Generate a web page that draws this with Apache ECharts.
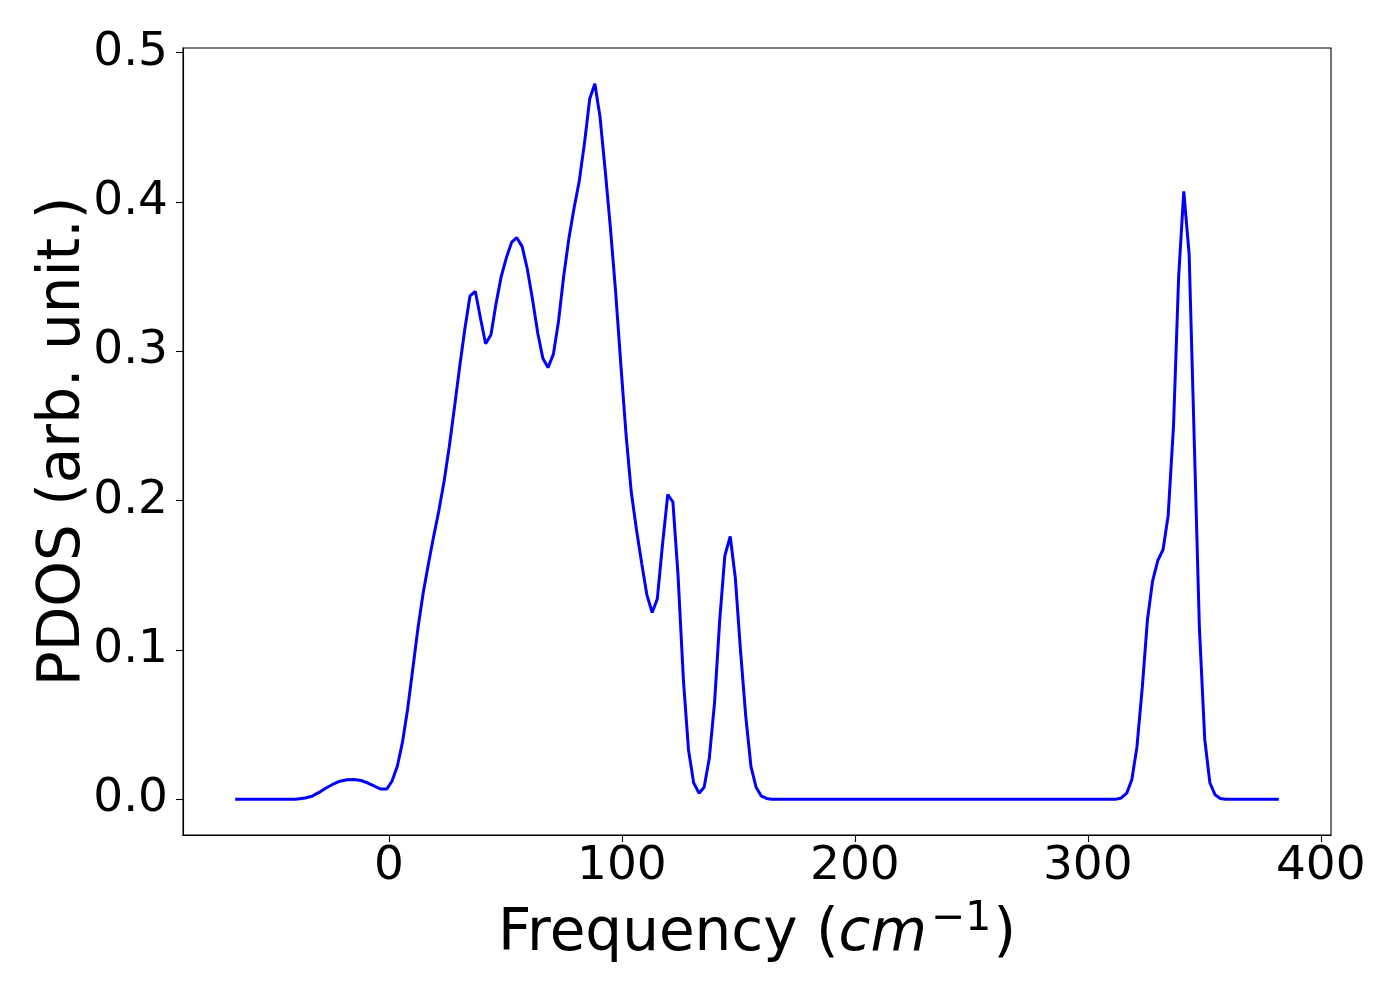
<!DOCTYPE html>
<html>
<head>
<meta charset="utf-8">
<script src="https://cdn.jsdelivr.net/npm/echarts@6/dist/echarts.min.js"></script>
<style>html,body{margin:0;padding:0;background:#fff}#c{width:1400px;height:1000px}</style>
</head>
<body>
<div id="c"></div>
<script>
const freq = [-66, -40, -36, -33, -30, -27, -24, -21, -18, -15, -12, -9, -6, -3.5, -0.9,
  1.3, 3.6, 5.8, 8.0, 10.3, 12.5, 14.7, 17.0, 19.2, 21.4, 23.7, 25.9, 28.1, 30.4, 32.6, 34.8,
  37.1, 39.3, 41.5, 43.8, 46.0, 48.2, 50.5, 52.7, 54.9, 57.2, 59.4, 61.6, 63.9, 66.1, 68.3,
  70.6, 72.8, 75.0, 77.3, 79.5, 81.7, 84.0, 86.2, 88.4, 90.6, 92.9, 95.1, 97.3, 99.6, 101.8,
  104.0, 106.3, 108.5, 110.7, 113.0, 115.2, 117.4, 119.7, 121.9, 124.1, 126.4, 128.6, 130.8,
  133.1, 135.3, 137.5, 139.8, 142.0, 144.2, 146.5, 148.7, 150.9, 153.2, 155.4, 157.6, 159.9,
  162.1, 164.3, 312.2, 314.4, 316.7, 318.9, 321.1, 323.4, 325.6, 327.8, 330.1, 332.3, 334.5,
  336.8, 339.0, 341.2, 343.5, 345.7, 347.9, 350.2, 352.4, 354.6, 356.9, 359.1, 382];
const pdos = [0, 0, 0.0008, 0.002, 0.0045, 0.0075, 0.010, 0.012, 0.013, 0.0132, 0.0125, 0.0108, 0.0085, 0.0068, 0.0068,
  0.012, 0.022, 0.038, 0.060, 0.088, 0.115, 0.138, 0.158, 0.176, 0.193, 0.213, 0.236, 0.262, 0.290, 0.315, 0.337,
  0.340, 0.322, 0.305, 0.311, 0.332, 0.350, 0.363, 0.373, 0.376, 0.370, 0.355, 0.335, 0.312, 0.295, 0.289,
  0.298, 0.320, 0.350, 0.376, 0.396, 0.414, 0.440, 0.469, 0.479, 0.457, 0.420, 0.382, 0.340, 0.290, 0.244,
  0.206, 0.180, 0.158, 0.137, 0.125, 0.134, 0.170, 0.204, 0.199, 0.150, 0.080, 0.033, 0.011,
  0.004, 0.008, 0.027, 0.065, 0.120, 0.163, 0.176, 0.148, 0.100, 0.055, 0.022, 0.008, 0.002,
  0.0005, 0, 0, 0.0008, 0.004, 0.013, 0.035, 0.075, 0.120, 0.146, 0.160, 0.167, 0.190,
  0.250, 0.350, 0.407, 0.365, 0.240, 0.115, 0.040, 0.011, 0.003, 0.0005, 0, 0];
const xTicks = [0, 100, 200, 300, 400];
const yTicks = [0, 0.1, 0.2, 0.3, 0.4, 0.5];

const font = 'DejaVu Sans';
const chart = echarts.init(document.getElementById('c'), null, {renderer: 'canvas'});
chart.setOption({
  animation: false,
  backgroundColor: '#fff',
  grid: {left: 183, right: 69, top: 48, bottom: 165, show: true, borderColor: '#000', borderWidth: 1.1, backgroundColor: 'transparent'},
  xAxis: {
    type: 'value', min: -88.4, max: 404.4,
    splitLine: {show: false},
    axisLine: {show: true, onZero: false, lineStyle: {color: '#000', width: 1.1}},
    axisTick: {show: true, length: 7, lineStyle: {color: '#000', width: 1.1}, customValues: xTicks},
    axisLabel: {color: '#000', fontFamily: font, fontSize: 47, margin: 8, customValues: xTicks},
    name: '{n|Frequency (}{i|cm}{s|−1}{n|)}',
    nameLocation: 'middle', nameGap: 64, nameMoveOverlap: false,
    nameTextStyle: {
      fontFamily: font, fontSize: 58, color: '#000',
      rich: {
        n: {fontFamily: font, fontSize: 58, lineHeight: 72, color: '#000'},
        i: {fontFamily: font, fontSize: 58, lineHeight: 72, fontStyle: 'italic', color: '#000'},
        s: {fontFamily: font, fontSize: 41, lineHeight: 41, color: '#000', verticalAlign: 'top', padding: [0, 2, 0, 4]}
      }
    }
  },
  yAxis: {
    type: 'value', min: -0.024, max: 0.503,
    splitLine: {show: false},
    axisLine: {show: true, onZero: false, lineStyle: {color: '#000', width: 1.1}},
    axisTick: {show: true, length: 7, lineStyle: {color: '#000', width: 1.1}, customValues: yTicks},
    axisLabel: {color: '#000', fontFamily: font, fontSize: 47, margin: 15, customValues: yTicks,
      formatter: v => v.toFixed(1)},
    name: 'PDOS (arb. unit.)',
    nameLocation: 'middle', nameGap: 90, nameMoveOverlap: false,
    nameTextStyle: {fontFamily: font, fontSize: 58, color: '#000'}
  },
  series: [{
    type: 'line',
    data: freq.map((f, i) => [f, pdos[i]]),
    showSymbol: false,
    smooth: false,
    lineStyle: {color: '#0000ff', width: 3},
    itemStyle: {color: '#0000ff'}
  }]
});
</script>
</body>
</html>
